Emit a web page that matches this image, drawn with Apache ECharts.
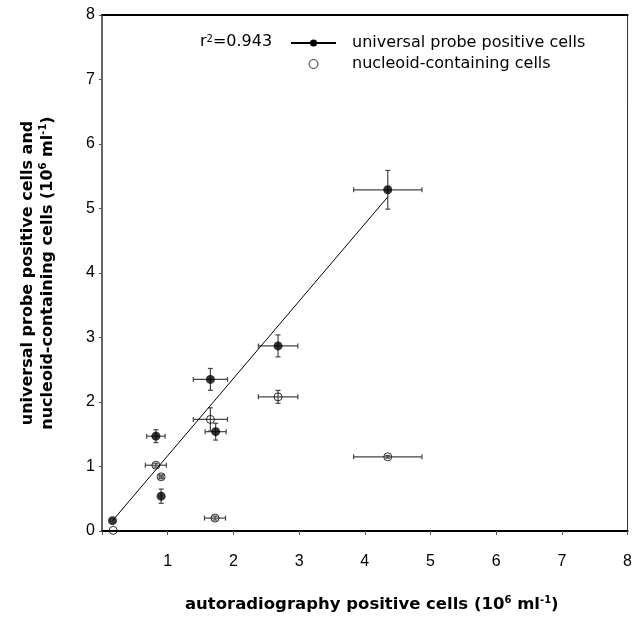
<!DOCTYPE html>
<html>
<head>
<meta charset="utf-8">
<title>Autoradiography vs probe positive cells</title>
<script src="https://cdn.jsdelivr.net/npm/echarts@6/dist/echarts.min.js"></script>
<style>
  html, body { margin: 0; padding: 0; background: #fff; }
  #chart { width: 635px; height: 620px; }
</style>
</head>
<body>
<div id="chart"></div>
<script>
// -- Data (10^6 cells per ml) --
// universal probe positive cells
const probeX    = [0.16, 0.82, 0.90, 1.65, 1.73, 2.68, 4.35];
const probeY    = [0.16, 1.47, 0.54, 2.35, 1.54, 2.87, 5.29];
const probeXErr = [0, 0.14, 0, 0.26, 0.16, 0.30, 0.52];
const probeYErr = [0, 0.10, 0.11, 0.17, 0.13, 0.17, 0.30];

// nucleoid-containing cells
const nucX    = [0.17, 0.82, 0.90, 1.65, 2.68, 1.72, 4.35];
const nucY    = [0.01, 1.02, 0.84, 1.73, 2.08, 0.20, 1.15];
const nucXErr = [0, 0.16, 0.03, 0.26, 0.30, 0.16, 0.52];
const nucYErr = [0, 0.03, 0.03, 0.18, 0.10, 0.03, 0.02];

// regression line end points
const fitX = [0.16, 4.35];
const fitY = [0.16, 5.18];

const rSquared = '0.943';

// Helvetica-like for ticks, wider face for the loosely tracked titles/legend
const FONT = '"Liberation Sans", Arial, Helvetica, sans-serif';
const WIDE = '"DejaVu Sans", Verdana, sans-serif';

// zip helpers
const pts = (xs, ys) => xs.map((x, i) => [x, ys[i]]);
const errRows = (xs, ys, ex, ey) => xs.map((x, i) => [x, ys[i], ex[i], ey[i]]);

// -- Error bar renderer (horizontal + vertical whiskers with caps) --
function renderErr(params, api) {
  const x = api.value(0), y = api.value(1);
  const ex = api.value(2), ey = api.value(3);
  const style = { stroke: '#444', lineWidth: 1.2 };
  const cap = 2.5;
  const children = [];
  if (ex > 0) {
    const a = api.coord([x - ex, y]), b = api.coord([x + ex, y]);
    children.push({ type: 'line', shape: { x1: a[0], y1: a[1], x2: b[0], y2: b[1] }, style });
    children.push({ type: 'line', shape: { x1: a[0], y1: a[1] - cap, x2: a[0], y2: a[1] + cap }, style });
    children.push({ type: 'line', shape: { x1: b[0], y1: b[1] - cap, x2: b[0], y2: b[1] + cap }, style });
  }
  if (ey > 0) {
    const a = api.coord([x, y - ey]), b = api.coord([x, y + ey]);
    children.push({ type: 'line', shape: { x1: a[0], y1: a[1], x2: b[0], y2: b[1] }, style });
    children.push({ type: 'line', shape: { x1: a[0] - cap, y1: a[1], x2: a[0] + cap, y2: a[1] }, style });
    children.push({ type: 'line', shape: { x1: b[0] - cap, y1: b[1], x2: b[0] + cap, y2: b[1] }, style });
  }
  return { type: 'group', children };
}

const sup = { fontSize: 10, fontWeight: 'bold', fontFamily: WIDE, color: '#000', verticalAlign: 'top', lineHeight: 12 };
const titleStyle = { fontSize: 16, fontWeight: 'bold', fontFamily: WIDE, color: '#000', lineHeight: 20, rich: { s: sup } };

const chart = echarts.init(document.getElementById('chart'), null, { renderer: 'canvas' });

chart.setOption({
  backgroundColor: '#fff',
  animation: false,
  textStyle: { fontFamily: FONT, color: '#000' },
  title: {
    text: 'r{s|2}=' + rSquared,
    left: 195, top: 29,
    textStyle: {
      fontSize: 16, fontWeight: 'normal', fontFamily: WIDE, color: '#000',
      rich: { s: { fontSize: 10, fontFamily: WIDE, color: '#000', verticalAlign: 'top', lineHeight: 10 } }
    }
  },
  legend: {
    orient: 'vertical',
    left: 285, top: 30,
    itemWidth: 45, itemHeight: 9, itemGap: 5,
    textStyle: { fontSize: 16, fontFamily: WIDE, color: '#000', padding: [0, 0, 0, 11] },
    data: [
      { name: 'universal probe positive cells' },
      { name: 'nucleoid-containing cells', itemStyle: { color: 'rgba(0,0,0,0)', borderColor: '#000', borderWidth: 1 } }
    ]
  },
  grid: { left: 102, right: 4, top: 15, bottom: 78, show: true, borderColor: '#333', borderWidth: 1 },
  xAxis: [{
    type: 'value', min: 0, max: 8, interval: 1,
    name: 'autoradiography positive cells (10{s|6} ml{s|-1})',
    nameLocation: 'middle', nameGap: 64,
    nameTextStyle: Object.assign({}, titleStyle, { fontSize: 16.5, padding: [0, 0, 0, 14] }),
    axisLine: { lineStyle: { color: '#000', width: 2 } },
    axisTick: { length: 4, lineStyle: { color: '#555' } },
    axisLabel: { fontSize: 16, color: '#000', margin: 23, formatter: v => (v === 0 ? '' : String(v)) },
    splitLine: { show: false }
  }, {
    type: 'value', min: 0, max: 8, position: 'top',
    axisLine: { show: true, lineStyle: { color: '#000', width: 2 } },
    axisTick: { show: false }, axisLabel: { show: false }, splitLine: { show: false }
  }],
  yAxis: {
    type: 'value', min: 0, max: 8, interval: 1,
    name: 'universal probe positive cells and\nnucleoid-containing cells (10{s|6} ml{s|-1})',
    nameLocation: 'middle', nameGap: 44, nameRotate: 90,
    nameTextStyle: titleStyle,
    axisLine: { lineStyle: { color: '#666', width: 2 } },
    axisTick: { length: 3, lineStyle: { color: '#555' } },
    axisLabel: { fontSize: 16, color: '#000', margin: 7 },
    splitLine: { show: false }
  },
  series: [
    {
      name: 'universal probe positive cells',
      type: 'line',
      data: pts(fitX, fitY),
      showSymbol: false,
      symbol: 'circle', symbolSize: 9,
      itemStyle: { color: '#000' },
      lineStyle: { color: '#000', width: 1 },
      z: 3
    },
    {
      name: 'probe-err', type: 'custom', renderItem: renderErr,
      data: errRows(probeX, probeY, probeXErr, probeYErr), z: 2
    },
    {
      name: 'nuc-err', type: 'custom', renderItem: renderErr,
      data: errRows(nucX, nucY, nucXErr, nucYErr), z: 2
    },
    {
      name: 'probe-points', type: 'scatter',
      data: pts(probeX, probeY),
      symbol: 'circle', symbolSize: 9,
      itemStyle: { color: '#000' }, z: 4
    },
    {
      name: 'nucleoid-containing cells', type: 'scatter',
      data: pts(nucX, nucY),
      symbol: 'circle', symbolSize: 8,
      itemStyle: { color: 'rgba(0,0,0,0)', borderColor: '#000', borderWidth: 1 }, z: 4
    }
  ]
});
</script>
</body>
</html>
